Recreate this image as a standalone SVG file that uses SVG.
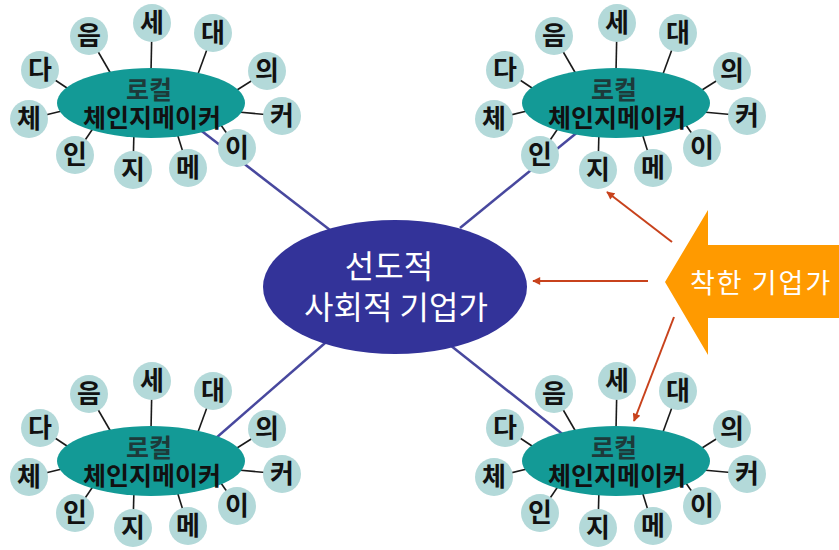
<svg xmlns="http://www.w3.org/2000/svg" xmlns:xlink="http://www.w3.org/1999/xlink" width="839" height="550" viewBox="0 0 839 550">
<style>
.spoke{stroke:#1a1a1a;stroke-width:1.6;fill:none}
.link{stroke:#48489e;stroke-width:2.5;fill:none}
.red{stroke:#c8421c;stroke-width:2;fill:none}
.bub{fill:#b3d9d9}
.hub{fill:#139a96}
.ch{font-family:"Noto Sans CJK KR","Noto Sans",sans-serif;font-size:26px;font-weight:bold;fill:#111;text-anchor:middle}
.ht{font-family:"Noto Sans CJK KR","Noto Sans",sans-serif;font-size:25px;font-weight:bold;text-anchor:middle}
.ct{font-family:"Noto Sans CJK KR","Noto Sans",sans-serif;font-size:32px;fill:#fff;text-anchor:middle}
.at{font-family:"Noto Sans CJK KR","Noto Sans",sans-serif;font-size:27px;fill:#fff}
</style>
<defs>
<marker id="ah" viewBox="0 0 10 10" refX="9" refY="5" markerWidth="10" markerHeight="8" markerUnits="userSpaceOnUse" orient="auto"><path d="M0,0 L10,5 L0,10 z" fill="#c8421c"/></marker>
<g id="cl">
<line class="spoke" x1="89" y1="36" x2="111" y2="74"/>
<line class="spoke" x1="152" y1="23" x2="151" y2="72"/>
<line class="spoke" x1="213" y1="33" x2="198" y2="74"/>
<line class="spoke" x1="267" y1="71" x2="237" y2="90"/>
<line class="spoke" x1="282" y1="116" x2="238" y2="112"/>
<line class="spoke" x1="237" y1="148" x2="216" y2="118"/>
<line class="spoke" x1="188" y1="168" x2="176" y2="130"/>
<line class="spoke" x1="133" y1="170" x2="134" y2="130"/>
<line class="spoke" x1="75" y1="155" x2="96" y2="124"/>
<line class="spoke" x1="29" y1="119" x2="66" y2="110"/>
<line class="spoke" x1="40" y1="70" x2="70" y2="90"/>
<ellipse class="hub" cx="151" cy="103" rx="94" ry="35"/>
<circle class="bub" cx="89" cy="36" r="19"/><text class="ch" x="89" y="45">음</text>
<circle class="bub" cx="152" cy="23" r="19"/><text class="ch" x="152" y="32">세</text>
<circle class="bub" cx="213" cy="33" r="19"/><text class="ch" x="213" y="42">대</text>
<circle class="bub" cx="267" cy="71" r="19"/><text class="ch" x="267" y="80">의</text>
<circle class="bub" cx="282" cy="116" r="19"/><text class="ch" x="282" y="125">커</text>
<circle class="bub" cx="237" cy="148" r="19"/><text class="ch" x="237" y="157">이</text>
<circle class="bub" cx="188" cy="168" r="19"/><text class="ch" x="188" y="177">메</text>
<circle class="bub" cx="133" cy="170" r="19"/><text class="ch" x="133" y="179">지</text>
<circle class="bub" cx="75" cy="155" r="19"/><text class="ch" x="75" y="164">인</text>
<circle class="bub" cx="29" cy="119" r="19"/><text class="ch" x="29" y="128">체</text>
<circle class="bub" cx="40" cy="70" r="19"/><text class="ch" x="40" y="79">다</text>
<text class="ht" x="149" y="99" fill="#1d3a3a">로컬</text>
<text class="ht" x="152" y="127" fill="#111">체인지메이커</text>
</g>
</defs>
<g id="connectors">
<line class="link" x1="190" y1="122" x2="330" y2="230"/>
<line class="link" x1="590" y1="122" x2="460" y2="228"/>
<line class="link" x1="200" y1="452" x2="340" y2="330"/>
<line class="link" x1="580" y1="448" x2="450" y2="345"/>
<line class="red" x1="648" y1="281" x2="533" y2="281" marker-end="url(#ah)"/>
<line class="red" x1="672" y1="242" x2="607" y2="192" marker-end="url(#ah)"/>
<line class="red" x1="674" y1="317" x2="634" y2="421" marker-end="url(#ah)"/>
</g>
<g id="cluster-top-left"><use xlink:href="#cl" href="#cl"/></g>
<g id="cluster-top-right"><use xlink:href="#cl" href="#cl" transform="translate(465,0)"/></g>
<g id="cluster-bottom-left"><use xlink:href="#cl" href="#cl" transform="translate(0,358)"/></g>
<g id="cluster-bottom-right"><use xlink:href="#cl" href="#cl" transform="translate(465,358)"/></g>
<g id="center">
<ellipse cx="395" cy="287" rx="132" ry="67" fill="#333399"/>
<text class="ct" x="389" y="278">선도적</text>
<text class="ct" x="396" y="319">사회적 기업가</text>
</g>
<g id="good-entrepreneur">
<polygon points="665,282 708,210 708,245 839,245 839,318 708,318 708,355" fill="#ff9a00"/>
<text class="at" x="690" y="293" letter-spacing="2">착한 기업가</text>
</g>
</svg>
